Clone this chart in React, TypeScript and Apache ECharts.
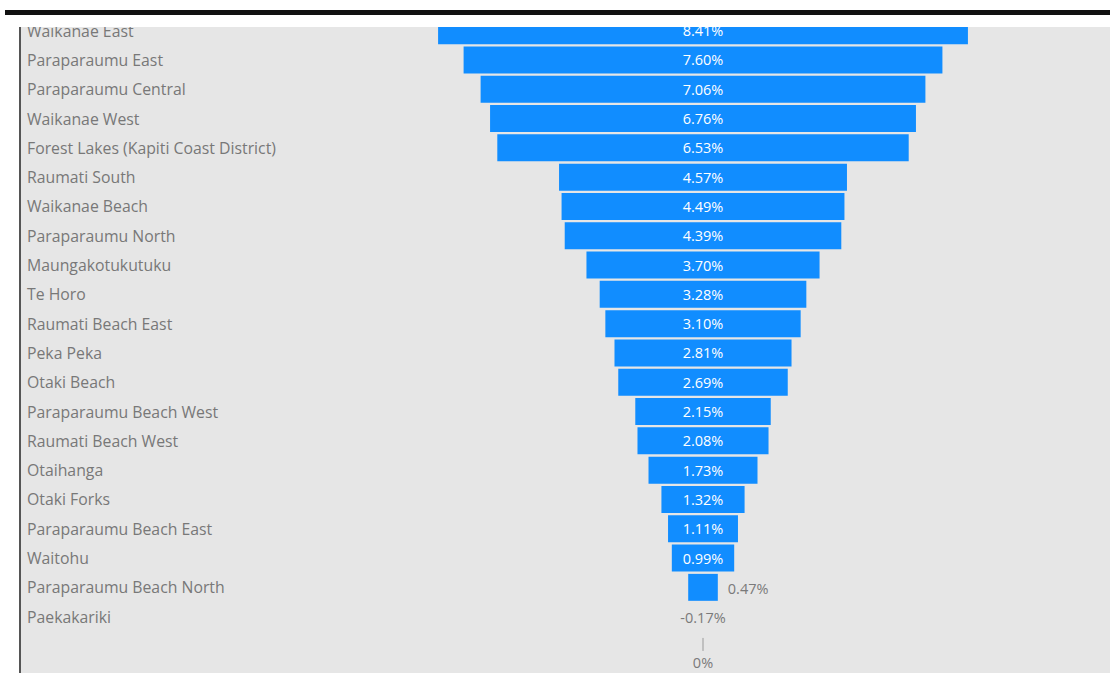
import React, { useEffect, useRef } from "react";
import * as echarts from "echarts";

const categories: string[] = [
  "Waikanae East",
  "Paraparaumu East",
  "Paraparaumu Central",
  "Waikanae West",
  "Forest Lakes (Kapiti Coast District)",
  "Raumati South",
  "Waikanae Beach",
  "Paraparaumu North",
  "Maungakotukutuku",
  "Te Horo",
  "Raumati Beach East",
  "Peka Peka",
  "Otaki Beach",
  "Paraparaumu Beach West",
  "Raumati Beach West",
  "Otaihanga",
  "Otaki Forks",
  "Paraparaumu Beach East",
  "Waitohu",
  "Paraparaumu Beach North",
  "Paekakariki",
  "",
];

const values: number[] = [
  8.41, 7.6, 7.06, 6.76, 6.53, 4.57, 4.49, 4.39, 3.7, 3.28, 3.1, 2.81, 2.69,
  2.15, 2.08, 1.73, 1.32, 1.11, 0.99, 0.47, -0.17, 0,
];

const FONT = "'Open Sans', 'Segoe UI', sans-serif";
const BLUE = "#118DFF";
const GREY_TEXT = "#7a7a7a";
const LABEL_SIZE = 14.5;

function fmt(v: number): string {
  if (v === 0) return "0%";
  return v.toFixed(2) + "%";
}

export default function App() {
  const ref = useRef<HTMLDivElement>(null);
  useEffect(() => {
    if (!ref.current) return;
    const chart = echarts.init(ref.current, null, { renderer: "svg" });
    const data = values.map((v, i) => [v, i]);
    chart.setOption({
      animation: false,
      backgroundColor: "#e6e6e6",
      grid: { left: 27, right: 0, top: 16, bottom: 12.4, containLabel: false },
      xAxis: {
        type: "value",
        min: -10.73,
        max: 6.46,
        show: false,
      },
      yAxis: {
        type: "category",
        inverse: true,
        data: categories,
        axisLine: { show: false },
        axisTick: { show: false },
        splitLine: { show: false },
        axisLabel: {
          inside: true,
          margin: 0,
          align: "left",
          fontFamily: FONT,
          fontSize: 15.8,
          color: "#787878",
        },
      },
      series: [
        {
          type: "custom",
          clip: false,
          data,
          encode: { x: 0, y: 1 },
          renderItem: (params: any, api: any) => {
            const v = api.value(0) as number;
            const idx = api.value(1) as number;
            const half = Math.abs(v) / 2;
            const l = api.coord([-half, idx]);
            const r = api.coord([half, idx]);
            const c = api.coord([0, idx]);
            const rowH = api.size([0, 1])[1];
            const h = rowH * 0.92;
            const children: any[] = [];
            const font = `${LABEL_SIZE}px ${FONT}`;
            if (v > 0) {
              children.push({
                type: "rect",
                shape: { x: l[0], y: c[1] - h / 2, width: r[0] - l[0], height: h },
                style: { fill: BLUE },
              });
              if (v >= 0.9) {
                children.push({
                  type: "text",
                  style: {
                    x: c[0],
                    y: c[1],
                    text: fmt(v),
                    fill: "#ffffff",
                    font,
                    align: "center",
                    verticalAlign: "middle",
                  },
                });
              } else {
                children.push({
                  type: "text",
                  style: {
                    x: r[0] + 10,
                    y: c[1] + 1,
                    text: fmt(v),
                    fill: GREY_TEXT,
                    font,
                    align: "left",
                    verticalAlign: "middle",
                  },
                });
              }
            } else if (v < 0) {
              children.push({
                type: "text",
                style: {
                  x: c[0],
                  y: c[1] + 1,
                  text: fmt(v),
                  fill: GREY_TEXT,
                  font,
                  align: "center",
                  verticalAlign: "middle",
                },
              });
            } else {
              children.push({
                type: "line",
                shape: { x1: c[0], y1: c[1] - 8, x2: c[0], y2: c[1] + 5 },
                style: { stroke: "#9a9a9a", lineWidth: 1 },
              });
              children.push({
                type: "text",
                style: {
                  x: c[0],
                  y: c[1] + 17,
                  text: fmt(v),
                  fill: GREY_TEXT,
                  font,
                  align: "center",
                  verticalAlign: "middle",
                },
              });
            }
            return { type: "group", children };
          },
        },
      ],
      graphic: [
        { type: "rect", z: 100, shape: { x: 0, y: 0, width: 1110, height: 27 }, style: { fill: "#ffffff" } },
        { type: "rect", z: 100, shape: { x: 0, y: 0, width: 19, height: 673 }, style: { fill: "#ffffff" } },
        { type: "rect", z: 101, shape: { x: 5, y: 10, width: 1105, height: 5 }, style: { fill: "#111111" } },
        { type: "rect", z: 101, shape: { x: 19, y: 27, width: 2, height: 646 }, style: { fill: "#555555" } },
      ],
    });
    return () => chart.dispose();
  }, []);
  return (
    <div
      ref={ref}
      style={{ position: "fixed", left: 0, top: 0, width: 1110, height: 673 }}
    />
  );
}
